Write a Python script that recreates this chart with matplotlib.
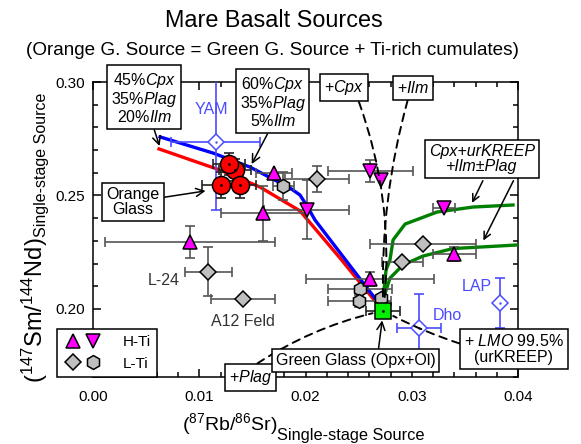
import matplotlib
matplotlib.use("Agg")
import matplotlib.pyplot as plt
from matplotlib.lines import Line2D
from matplotlib.legend_handler import HandlerTuple
from matplotlib.ticker import MultipleLocator, FormatStrFormatter

plt.rcParams['font.family'] = 'Liberation Sans'
plt.rcParams['mathtext.fontset'] = 'custom'
plt.rcParams['mathtext.rm'] = 'Liberation Sans'
plt.rcParams['mathtext.it'] = 'Liberation Sans:italic'
plt.rcParams['mathtext.bf'] = 'Liberation Sans:bold'

# ---- data ----
# orange glass (red circles)
og_x = [0.01336, 0.01280, 0.01205, 0.01384]
og_y = [0.2612, 0.2639, 0.2546, 0.2546]
og_xerr = [0.0015, 0.0015, 0.0018, 0.0015]
og_yerr = [0.0050, 0.0050, 0.0057, 0.0057]

# green glass (square)
gg_x = [0.02733]
gg_y = [0.1992]
gg_xerr = [0.0016]
gg_yerr = [0.0010]

# high-Ti basalts
hti_up_x = [0.00913, 0.01603, 0.01704, 0.02607, 0.03400]
hti_up_y = [0.2296, 0.2421, 0.2598, 0.2132, 0.2241]
hti_up_xerr = [0.0080, 0.0040, 0.0017, 0.0060, 0.0020]
hti_up_yerr = [0.0071, 0.0120, 0.0, 0.0030, 0.0030]

hti_dn_x = [0.02011, 0.02607, 0.02708, 0.03304]
hti_dn_y = [0.2436, 0.2608, 0.2568, 0.2446]
hti_dn_xerr = [0.0040, 0.0040, 0.0, 0.0010]
hti_dn_yerr = [0.0130, 0.0050, 0.0, 0.0]

# low-Ti basalts
lti_d_x = [0.01085, 0.01409, 0.02111, 0.02911, 0.03109]
lti_d_y = [0.2164, 0.2044, 0.2573, 0.2205, 0.2286]
lti_d_xerr = [0.0022, 0.0030, 0.0030, 0.0019, 0.0050]
lti_d_yerr = [0.0107, 0.0, 0.0057, 0.0, 0.0]

lti_h_x = [0.01791, 0.02513, 0.02507, 0.02708]
lti_h_y = [0.2543, 0.2086, 0.2035, 0.2047]
lti_h_xerr = [0.0010, 0.0030, 0.0030, 0.0]
lti_h_yerr = [0.0062, 0.0, 0.0025, 0.0]

# lunar meteorites (blue open diamonds)
met_names = ['YAM', 'Dho', 'LAP']
met_x = [0.01155, 0.03068, 0.03831]
met_y = [0.2737, 0.1917, 0.2027]
met_xerr = [0.0042, 0.0021, 0.0]
met_yerr = [0.0300, 0.0150, 0.0110]

# model curves
red_x = [0.00621, 0.01195, 0.01572, 0.01948, 0.02325, 0.02654]
red_y = [0.2705, 0.2612, 0.2537, 0.2432, 0.2224, 0.2035]
blue_x = [0.00631, 0.01129, 0.01478, 0.01854, 0.01948, 0.02014, 0.02089, 0.02673]
blue_y = [0.2758, 0.2687, 0.2625, 0.2533, 0.2502, 0.2454, 0.2392, 0.2035]
green1_x = [0.02729, 0.02758, 0.02795, 0.02824, 0.02937, 0.03238, 0.03577, 0.03953]
green1_y = [0.2039, 0.2172, 0.2216, 0.2304, 0.2374, 0.2427, 0.2449, 0.2458]
green2_x = [0.02729, 0.02795, 0.02918, 0.03106, 0.03388, 0.04000]
green2_y = [0.2039, 0.2136, 0.2194, 0.2233, 0.2266, 0.2282]

# colours
MAGENTA = '#ff00ff'
GREY = '#bfbfbf'
METBLUE = '#4b4bff'
ERRGREY = '#555555'
GGREEN = '#00ee00'
BOX = dict(boxstyle='square,pad=0.25', fc='white', ec='black', lw=1.1)

fig = plt.figure(figsize=(5.81, 4.44), dpi=100)
ax = fig.add_axes([0.1601, 0.1509, 0.7315, 0.6644])


def points(x, y, xerr, yerr, marker, ms, face, edge='black', ecolor=ERRGREY, z=5):
    for xi, yi, xe, ye in zip(x, y, xerr, yerr):
        ax.errorbar([xi], [yi], xerr=[xe] if xe else None, yerr=[ye] if ye else None,
                    fmt='none', ecolor=ecolor, elinewidth=1.2, capsize=3.5,
                    capthick=1.2, zorder=z)
        ax.plot([xi], [yi], ls='none', marker=marker, ms=ms, mfc=face, mec=edge,
                mew=1.1, zorder=z + 0.5)


# model curves
ax.plot(red_x, red_y, color='#ff0000', lw=2.4, zorder=3)
ax.plot(blue_x, blue_y, color='#0000ff', lw=2.4, zorder=3)
ax.plot(green1_x, green1_y, color='#008000', lw=2.4, zorder=3)
ax.plot(green2_x, green2_y, color='#008000', lw=2.4, zorder=3)

# samples
points(met_x, met_y, met_xerr, met_yerr, 'D', 8.5, 'white', edge=METBLUE, ecolor=METBLUE, z=4)
ax.plot(met_x, met_y, ls='none', marker='.', ms=1.5, color=METBLUE, zorder=5)
points(lti_d_x, lti_d_y, lti_d_xerr, lti_d_yerr, 'D', 7.8, GREY)
points(lti_h_x, lti_h_y, lti_h_xerr, lti_h_yerr, 'h', 10, GREY)
points(hti_up_x, hti_up_y, hti_up_xerr, hti_up_yerr, '^', 9.5, MAGENTA)
points(hti_dn_x, hti_dn_y, hti_dn_xerr, hti_dn_yerr, 'v', 9.5, MAGENTA)
points(og_x, og_y, og_xerr, og_yerr, 'o', 13, '#ff0000', ecolor='#222222', z=6)
ax.plot(og_x, og_y, ls='none', marker='.', ms=2, color='black', zorder=7)
points(gg_x, gg_y, gg_xerr, gg_yerr, 's', 12, GGREEN, ecolor='#222222', z=7)
ax.plot(gg_x, gg_y, ls='none', marker='.', ms=2, color='black', zorder=8)

# sample labels
ax.text(0.01117, 0.2877, met_names[0], color=METBLUE, fontsize=11.5, ha='center', va='center')
ax.text(0.03332, 0.1969, met_names[1], color=METBLUE, fontsize=11.5, ha='center', va='center')
ax.text(0.03614, 0.2097, met_names[2], color=METBLUE, fontsize=11.5, ha='center', va='center')
ax.text(0.00819, 0.2127, 'L-24', color='#333333', fontsize=11.5, ha='right', va='center')
ax.text(0.01409, 0.1944, 'A12 Feld', color='#333333', fontsize=11.5, ha='center', va='center')

# boxed notes with arrows
head = dict(arrowstyle='->,head_length=0.5,head_width=0.25', color='black', lw=1.1)
dash = dict(arrowstyle='-', color='black', lw=1.4, ls=(0, (4, 3)))
ggxy = (gg_x[0], gg_y[0])

ax.annotate('45%$\\mathit{Cpx}$\n35%$\\mathit{Plag}$\n20%$\\mathit{Ilm}$',
            xy=(0.0063, 0.2712), xytext=(0.0048, 0.2929), fontsize=11.5,
            ha='center', va='center', linespacing=1.0, bbox=BOX, zorder=9,
            arrowprops=dict(head, shrinkA=0, shrinkB=1))
ax.annotate('60%$\\mathit{Cpx}$\n35%$\\mathit{Plag}$\n5%$\\mathit{Ilm}$',
            xy=(0.01487, 0.2633), xytext=(0.01689, 0.2910), fontsize=11.5,
            ha='center', va='center', linespacing=1.0, bbox=BOX, zorder=9,
            arrowprops=dict(head, relpos=(0.46, 0), shrinkA=0, shrinkB=1))
ax.annotate('Orange\nGlass', xy=(0.01072, 0.2521), xytext=(0.00376, 0.2471),
            fontsize=11.5, ha='center', va='center', linespacing=1.0, bbox=BOX, zorder=9,
            arrowprops=dict(head, shrinkA=0, shrinkB=1))
ax.annotate('+$\\mathit{Cpx}$', xy=ggxy, xytext=(0.02362, 0.2974), fontsize=11.5,
            ha='center', va='center', bbox=BOX, zorder=9, annotation_clip=False,
            arrowprops=dict(dash, relpos=(0.83, 0), shrinkA=0, shrinkB=8,
                            connectionstyle='arc3,rad=-0.12'))
ax.annotate('+$\\mathit{Ilm}$', xy=ggxy, xytext=(0.03009, 0.2974), fontsize=11.5,
            ha='center', va='center', bbox=BOX, zorder=9, annotation_clip=False,
            arrowprops=dict(dash, relpos=(0.38, 0), shrinkA=0, shrinkB=8,
                            connectionstyle='arc3,rad=0.08'))
ax.text(0.03661, 0.2661, 'Cpx+urKREEP\n+Ilm\u00b1Plag', fontsize=11.5, style='italic',
        ha='center', va='center', linespacing=1.0, bbox=BOX, zorder=9)
ax.annotate('', xy=(0.03562, 0.2462), xytext=(0.03669, 0.2565),
            arrowprops=dict(head, shrinkA=0, shrinkB=1))
ax.annotate('', xy=(0.03668, 0.2296), xytext=(0.03957, 0.2565),
            arrowprops=dict(head, shrinkA=0, shrinkB=1))
ax.annotate('+$\\mathit{Plag}$', xy=ggxy, xytext=(0.01484, 0.1698), fontsize=11.5,
            ha='center', va='center', bbox=BOX, zorder=9, annotation_clip=False,
            arrowprops=dict(dash, relpos=(0.5, 1), shrinkA=0, shrinkB=8,
                            connectionstyle='arc3,rad=-0.1'))
ax.annotate('Green Glass (Opx+Ol)', xy=ggxy, xytext=(0.02471, 0.1771), fontsize=11.5,
            ha='center', va='center', bbox=BOX, zorder=9, annotation_clip=False,
            arrowprops=dict(head, relpos=(0.64, 1), shrinkA=0, shrinkB=7))
ax.annotate('+ $\\mathit{LMO}$ 99.5%\n(urKREEP)', xy=ggxy, xytext=(0.03962, 0.1823),
            fontsize=11.5, ha='center', va='center', linespacing=1.1, bbox=BOX, zorder=9,
            annotation_clip=False,
            arrowprops=dict(dash, relpos=(0, 0.63), shrinkA=0, shrinkB=8,
                            connectionstyle='arc3,rad=-0.05'))

# axes styling
ax.set_xlim(0.0, 0.04)
ax.set_ylim(0.17, 0.30)
ax.xaxis.set_major_locator(MultipleLocator(0.01))
ax.xaxis.set_minor_locator(MultipleLocator(0.002))
ax.yaxis.set_major_locator(MultipleLocator(0.05))
ax.yaxis.set_minor_locator(MultipleLocator(0.01))
ax.xaxis.set_major_formatter(FormatStrFormatter('%.2f'))
ax.yaxis.set_major_formatter(FormatStrFormatter('%.2f'))
ax.tick_params(which='both', direction='in', top=True, right=True, width=1.1, labelsize=11)
ax.tick_params(which='major', length=6)
ax.tick_params(which='minor', length=3.5)
ax.tick_params(axis='x', pad=9)
ax.tick_params(axis='y', pad=6)
for sp in ax.spines.values():
    sp.set_linewidth(1.1)

# axis labels: main part + larger "Single-stage Source" subscript
ax.text(0.433, -0.180, r'$(^{87}\mathrm{Rb}/^{86}\mathrm{Sr})$', transform=ax.transAxes,
        fontsize=14, ha='right', va='baseline')
ax.text(0.433, -0.213, 'Single-stage Source', transform=ax.transAxes,
        fontsize=11.8, ha='left', va='baseline')
ax.text(-0.1176, 0.4746, r'$(^{147}\mathrm{Sm}/^{144}\mathrm{Nd})$', transform=ax.transAxes,
        fontsize=17, ha='right', va='baseline', rotation=90, rotation_mode='anchor')
ax.text(-0.110, 0.4746, 'Single-stage Source', transform=ax.transAxes,
        fontsize=11.5, ha='left', va='baseline', rotation=90, rotation_mode='anchor')

# legend
h_up = Line2D([], [], ls='none', marker='^', ms=9.5, mfc=MAGENTA, mec='black', mew=1.1)
h_dn = Line2D([], [], ls='none', marker='v', ms=9.5, mfc=MAGENTA, mec='black', mew=1.1)
l_d = Line2D([], [], ls='none', marker='D', ms=7.8, mfc=GREY, mec='black', mew=1.1)
l_h = Line2D([], [], ls='none', marker='h', ms=10, mfc=GREY, mec='black', mew=1.1)
leg = ax.legend([(h_up, h_dn), (l_d, l_h)], ['H-Ti', 'L-Ti'],
                handler_map={tuple: HandlerTuple(ndivide=None, pad=0.0)},
                loc='lower left', bbox_to_anchor=(-0.084, 0.001), borderaxespad=0,
                fancybox=False, edgecolor='black', framealpha=1, fontsize=11,
                handlelength=2.6, handletextpad=1.3, borderpad=0.4, labelspacing=0.5)
leg.get_frame().set_linewidth(1.1)
leg.set_zorder(10)

# titles
fig.text(0.472, 0.953, 'Mare Basalt Sources', fontsize=16.8, ha='center', va='center')
fig.text(0.469, 0.886, '(Orange G. Source = Green G. Source + Ti-rich cumulates)',
         fontsize=13.6, ha='center', va='center')

fig.savefig('out.png', dpi=100)
